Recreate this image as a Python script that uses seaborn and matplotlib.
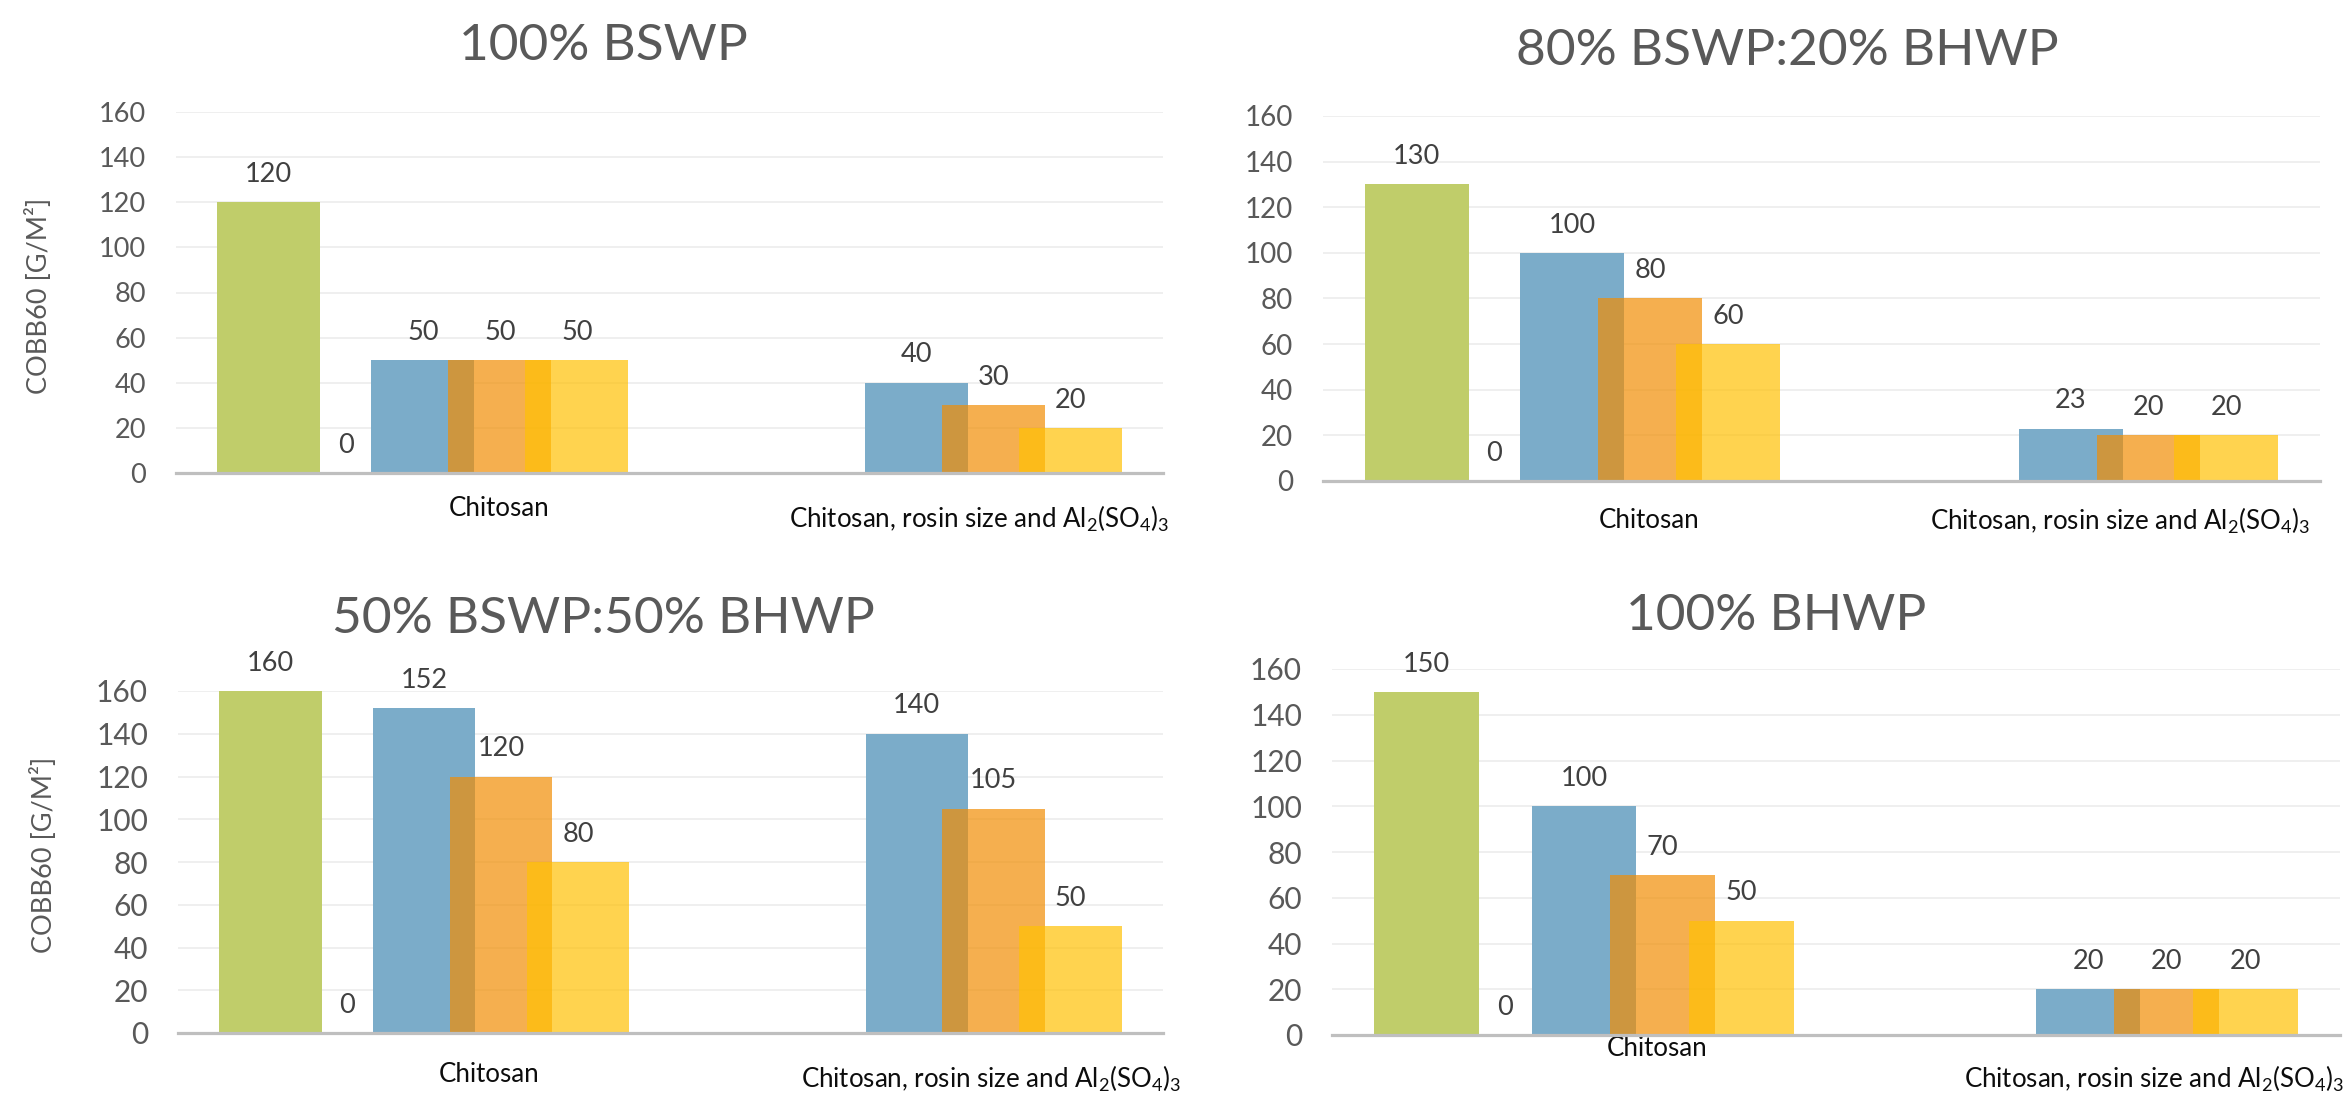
import pandas as pd
import seaborn as sns
import matplotlib.pyplot as plt

sns.set_theme(style="white")
plt.rcParams['font.family'] = ['Lato', 'DejaVu Sans']
plt.rcParams['mathtext.fontset'] = 'custom'
plt.rcParams['mathtext.rm'] = 'Lato'

# ---- data -------------------------------------------------------------
titles = ['100% BSWP', '80% BSWP:20% BHWP', '50% BSWP:50% BHWP', '100% BHWP']
categories = ['Chitosan', 'Chitosan, rosin size and Al2(SO4)3']
cat_labels = ['Chitosan',
              r'Chitosan, rosin size and Al$_\mathregular{2}$(SO$_\mathregular{4}$)$_\mathregular{3}$']
series = ['untreated', 'zero', 'dose 1', 'dose 2', 'dose 3']
colors = ['#C0CD6A', '#FFFFFF', '#7BACC9', '#F18E04', '#FFC104']
alphas = [1.0, 1.0, 1.0, 0.7, 0.7]

# Chitosan group: all five series; second group: only the three dose series
chitosan_vals = [
    [120, 0, 50, 50, 50],
    [130, 0, 100, 80, 60],
    [160, 0, 152, 120, 80],
    [150, 0, 100, 70, 50],
]
rosin_vals = [
    [40, 30, 20],
    [23, 20, 20],
    [140, 105, 50],
    [20, 20, 20],
]
yticks = list(range(0, 161, 20))

# ---- layout (pixels in the 2343x1097 figure) ---------------------------
W, H = 2343, 1097
layout = [
    dict(rect=(176, 1163, 473, 112), title_xy=(0.433, 1.144), ylab=(-0.126, 0.49),
         cat_x=(0.154, 1.127), cat_dy=(43, 55), tick=19.5),
    dict(rect=(1323, 2320, 481, 116), title_xy=(0.466, 1.14), ylab=None,
         cat_x=(0.154, 1.099), cat_dy=(47, 49), tick=20),
    dict(rect=(178, 1163, 1033, 691), title_xy=(0.432, 1.17), ylab=(-0.123, 0.52),
         cat_x=(0.131, 1.151), cat_dy=(49, 55), tick=21.5),
    dict(rect=(1332, 2340, 1035, 669), title_xy=(0.441, 1.107), ylab=None,
         cat_x=(0.145, 1.131), cat_dy=(21, 53), tick=21.5),
]

step = 0.156      # distance between neighbouring series
bar_w = 0.208     # bars are wider than the step -> Excel-like overlap

fig = plt.figure(figsize=(W / 100, H / 100), dpi=100)

for i, lay in enumerate(layout):
    left, right, zero, top = lay['rect']
    ax = fig.add_axes([left / W, 1 - zero / H, (right - left) / W, (zero - top) / H])

    rows = [(categories[0], s, v) for s, v in zip(series, chitosan_vals[i])]
    rows += [(categories[1], s, v) for s, v in zip(series[2:], rosin_vals[i])]
    df = pd.DataFrame(rows, columns=['treatment', 'series', 'cobb'])

    sns.barplot(data=df, x='treatment', y='cobb', hue='series', order=categories,
                hue_order=series, palette=colors, saturation=1, width=5 * step,
                errorbar=None, legend=False, ax=ax)

    for k, cont in enumerate(ax.containers):
        for bar in cont:
            cx = bar.get_x() + bar.get_width() / 2
            bar.set_width(bar_w)
            bar.set_x(cx - bar_w / 2)
            bar.set_alpha(alphas[k])
            bar.set_edgecolor('none')
        ax.bar_label(cont, fmt='%g', padding=11, fontsize=19.5, color='#404040')

    ax.set_xlim(-0.5, 1.5)
    ax.set_ylim(0, 160)
    ax.set_yticks(yticks)
    ax.set_xticks([0, 1])
    ax.set_xticklabels(['', ''])
    ax.set_xlabel('')
    ax.set_ylabel('')
    ax.tick_params(axis='both', length=0)
    ax.tick_params(axis='y', pad=21.6, labelsize=lay['tick'], labelcolor='#595959')
    ax.yaxis.grid(True, color='#EFEFEF', lw=1.4)
    ax.set_axisbelow(True)
    for sp in ['left', 'top', 'right']:
        ax.spines[sp].set_visible(False)
    ax.spines['bottom'].set_color('#BFBFBF')
    ax.spines['bottom'].set_linewidth(2.3)
    ax.spines['bottom'].set_zorder(3)

    for lab, x, dy in zip(cat_labels, lay['cat_x'], lay['cat_dy']):
        ax.annotate(lab, xy=(x, 0), xycoords=('data', 'axes fraction'),
                    xytext=(0, -dy * 0.72), textcoords='offset points',
                    ha='center', va='baseline', fontsize=18.6, color='#0D0D0D',
                    annotation_clip=False)

    tx, ty = lay['title_xy']
    ax.text(tx, ty, titles[i], transform=ax.transAxes, ha='center', va='baseline',
            fontsize=37, color='#595959')

    if lay['ylab'] is not None:
        ax.set_ylabel('COBB60 [G/M²]', fontsize=19.5, color='#595959')
        ax.yaxis.set_label_coords(*lay['ylab'])

fig.savefig('out.png', dpi=100)
